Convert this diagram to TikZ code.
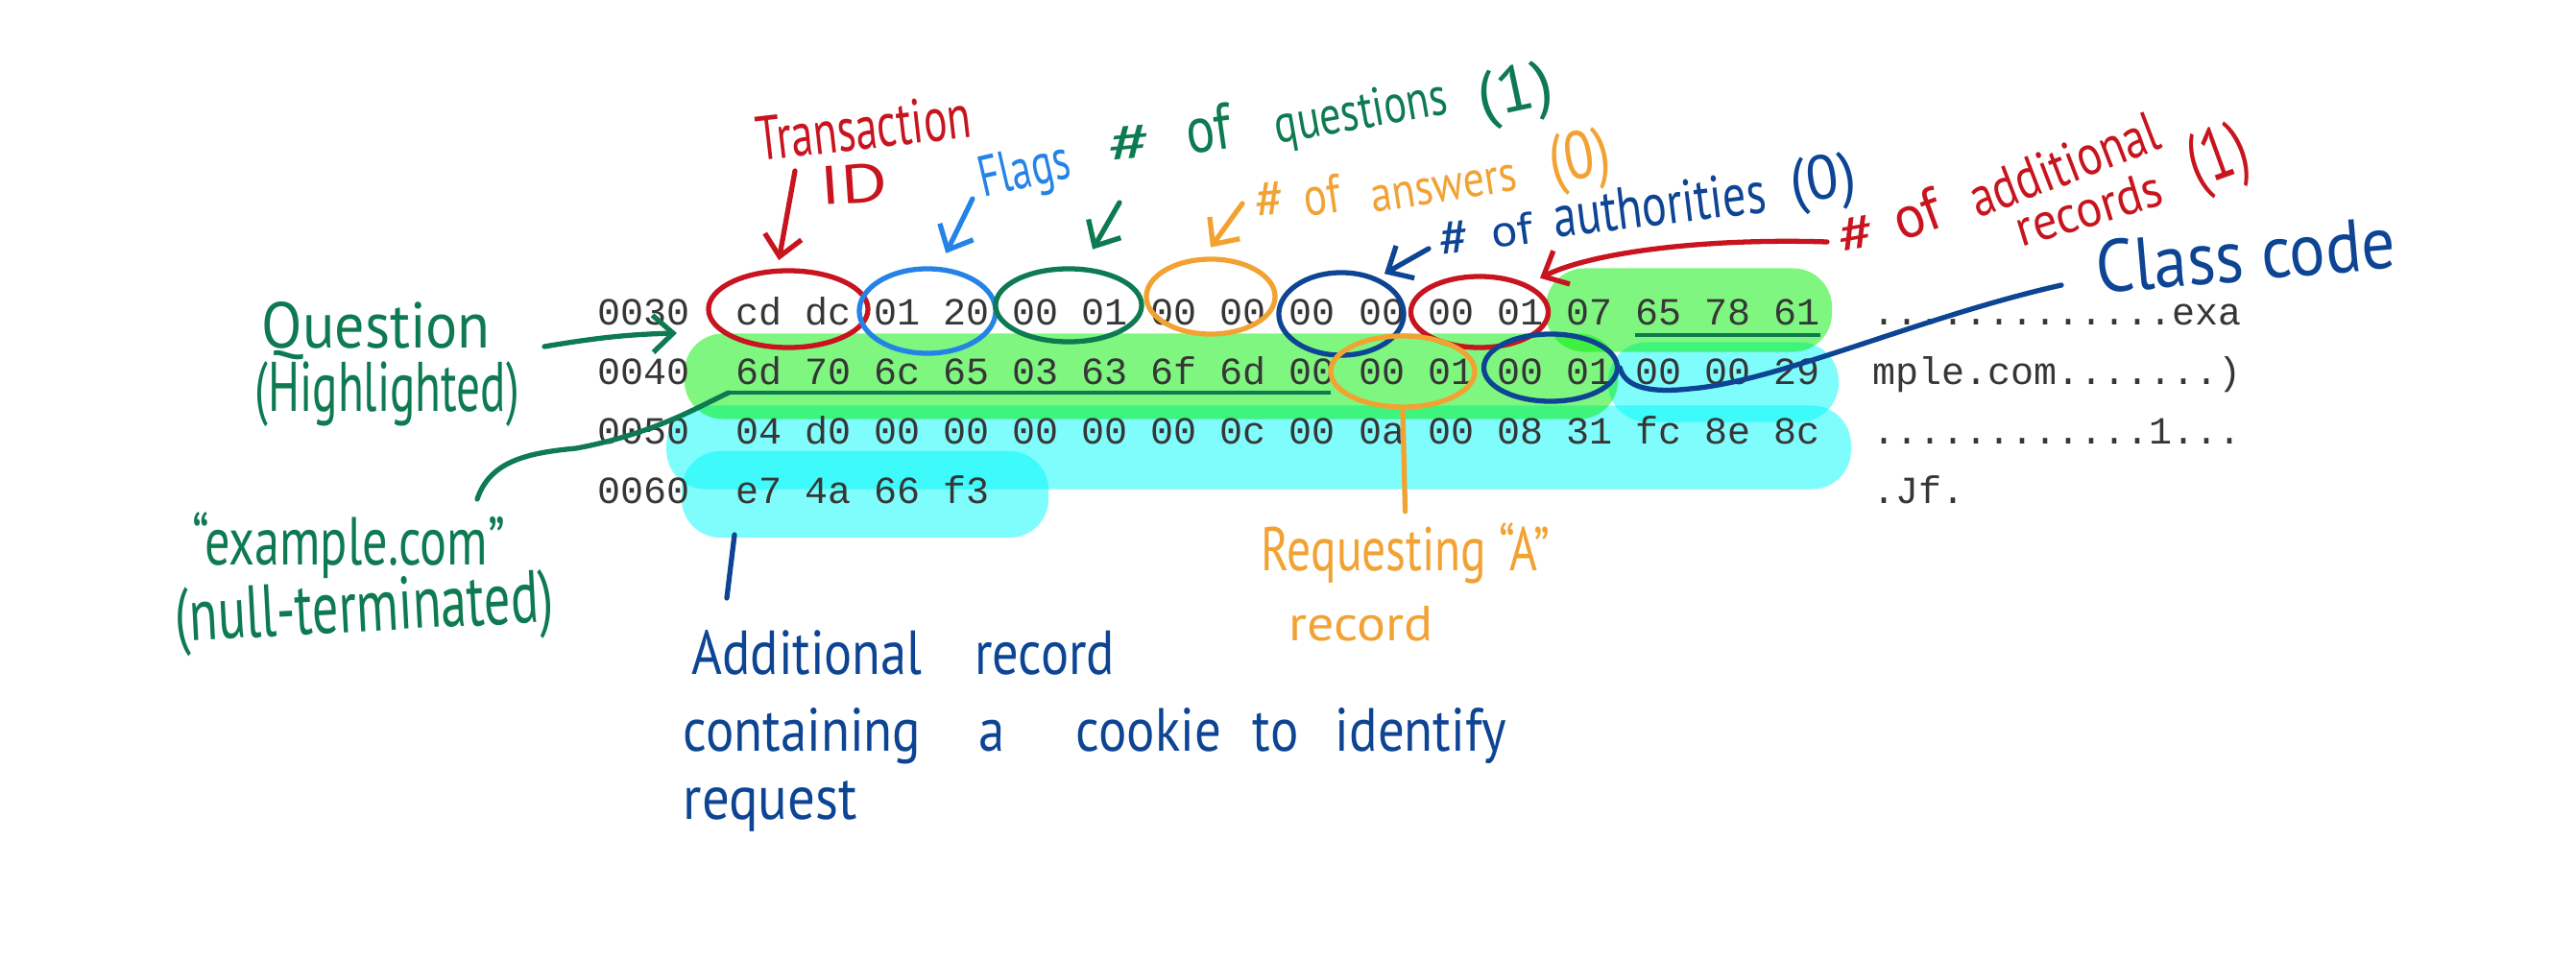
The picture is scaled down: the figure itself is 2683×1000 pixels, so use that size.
\documentclass[tikz,border=0pt]{standalone}
\usepackage{fontspec}
\usepackage{graphicx}
\usetikzlibrary{arrows.meta,shapes.geometric,calc}
\newfontfamily\hexfont{Liberation Mono}
\newfontfamily\handfont{PT Sans}
\definecolor{hexgray}{HTML}{363636}
\definecolor{hred}{HTML}{C8141E}
\definecolor{hblue}{HTML}{2483E6}
\definecolor{hgreen}{HTML}{0E7A52}
\definecolor{horange}{HTML}{F2A233}
\definecolor{hnavy}{HTML}{0D4493}
\definecolor{hlgreen}{HTML}{00EE00}
\definecolor{hlcyan}{HTML}{00FAFA}
\newcommand{\handtext}[3]{\resizebox{#1cm}{#2cm}{\handfont #3}}
\begin{document}
\begin{tikzpicture}[x=0.01cm,y=-0.01cm,
  hex/.style={anchor=base west, inner sep=0pt, font={\hexfont\fontsize{11.38pt}{13pt}\selectfont}, text=hexgray},
  hl/.style={rectangle, rounded corners=11.5pt, inner sep=0pt, fill opacity=0.5},
  circ/.style={ellipse, draw, line width=1.5pt, inner sep=0pt},
  lab/.style={anchor=base west, inner sep=0pt},
  conn/.style={line width=1.5pt, line cap=round},
  arr/.style={conn, -{Straight Barb[length=6pt,width=11pt]}},
  ul/.style={hgreen, line width=1.4pt}
]
\useasboundingbox (0,0) rectangle (2683,1000);
\fill[white] (0,0) rectangle (2683,1000);

% highlights
\node[hl, fill=hlcyan, minimum width=2.40cm, minimum height=0.83cm] (hlC1) at (1795,398) {};
\node[hl, fill=hlcyan, minimum width=12.33cm, minimum height=0.87cm] (hlC2) at (1311,466) {};
\node[hl, fill=hlcyan, minimum width=3.82cm, minimum height=0.90cm] (hlC3) at (901,515) {};
\node[hl, fill=hlgreen, minimum width=2.98cm, minimum height=0.87cm] (hlG1) at (1759,323) {};
\node[hl, fill=hlgreen, minimum width=9.72cm, minimum height=0.89cm] (hlG2) at (1199,392) {};

% underlines
\coordinate (ulA1) at (1703,349); \coordinate (ulA2) at (1896,349);
\coordinate (ulB1) at (759,409);  \coordinate (ulB2) at (1386,409);
\draw[ul] (ulA1) -- (ulA2);
\draw[ul] (ulB1) -- (ulB2);

% hex dump
\node[hex] (o1) at (622,338) {0030};
\node[hex] (h1) at (766,338) {cd dc 01 20 00 01 00 00 00 00 00 01 07 65 78 61};
\node[hex] (a1) at (1950,338) {.............exa};
\node[hex] (o2) at (622,400) {0040};
\node[hex] (h2) at (766,400) {6d 70 6c 65 03 63 6f 6d 00 00 01 00 01 00 00 29};
\node[hex] (a2) at (1950,400) {mple.com.......)};
\node[hex] (o3) at (622,462) {0050};
\node[hex] (h3) at (766,462) {04 d0 00 00 00 00 00 0c 00 0a 00 08 31 fc 8e 8c};
\node[hex] (a3) at (1950,462) {............1...};
\node[hex] (o4) at (622,524) {0060};
\node[hex] (h4) at (766,524) {e7 4a 66 f3};
\node[hex] (a4) at (1950,524) {.Jf.};

% circles
\node[circ, draw=hred, minimum width=1.66cm, minimum height=0.80cm] (cTid) at (821,322) {};
\node[circ, draw=hblue, minimum width=1.42cm, minimum height=0.88cm] (cFlags) at (966,324) {};
\node[circ, draw=hgreen, minimum width=1.52cm, minimum height=0.76cm] (cQ) at (1113,318) {};
\node[circ, draw=horange, minimum width=1.34cm, minimum height=0.78cm] (cAns) at (1261,309) {};
\node[circ, draw=hnavy, minimum width=1.30cm, minimum height=0.86cm] (cAuth) at (1397,327) {};
\node[circ, draw=hred, minimum width=1.43cm, minimum height=0.74cm] (cAdd) at (1541,325) {};
\node[circ, draw=horange, minimum width=1.50cm, minimum height=0.74cm] (cA) at (1461,387) {};
\node[circ, draw=hnavy, minimum width=1.39cm, minimum height=0.70cm] (cClass) at (1615,383) {};

% labels
\node[lab, text=hred, rotate=6.5] (lTid1) at (790,168) {\handtext{2.24}{0.46}{Transaction}};
\node[lab, text=hred, rotate=4] (lTid2) at (855,214) {\handtext{0.70}{0.40}{ID}};
\node[lab, text=hblue, rotate=13] (lFlags) at (1024,206) {\handtext{0.95}{0.42}{Flags}};
% # of questions (1)
\node[lab, text=hgreen, rotate=5] (lQa) at (1155,171) {\handtext{0.47}{0.37}{\#}};
\node[lab, text=hgreen, rotate=8] (lQb) at (1238,161) {\handtext{0.47}{0.48}{of}};
\node[lab, text=hgreen, rotate=10] (lQc) at (1330,150) {\handtext{1.82}{0.40}{questions}};
\node[lab, text=hgreen, rotate=12] (lQd) at (1543,124) {\handtext{0.79}{0.48}{(1)}};
% # of answers (0)
\node[lab, text=horange, rotate=5] (lAna) at (1308,229) {\handtext{0.32}{0.37}{\#}};
\node[lab, text=horange, rotate=8] (lAnb) at (1360,226) {\handtext{0.38}{0.40}{of}};
\node[lab, text=horange, rotate=9] (lAnc) at (1430,222) {\handtext{1.53}{0.27}{answers}};
\node[lab, text=horange, rotate=10] (lAnd) at (1617,191) {\handtext{0.63}{0.50}{(0)}};
% # of authorities (0)
\node[lab, text=hnavy, rotate=6] (lAua) at (1500,269) {\handtext{0.33}{0.36}{\#}};
\node[lab, text=hnavy, rotate=8] (lAub) at (1555,259) {\handtext{0.43}{0.33}{of}};
\node[lab, text=hnavy, rotate=7] (lAuc) at (1620,248) {\handtext{2.22}{0.44}{authorities}};
\node[lab, text=hnavy, rotate=8] (lAud) at (1867,212) {\handtext{0.68}{0.46}{(0)}};
% # of additional records (1)
\node[lab, text=hred, rotate=10] (lAda) at (1917,266) {\handtext{0.40}{0.36}{\#}};
\node[lab, text=hred, rotate=20] (lAdb) at (1980,252) {\handtext{0.50}{0.44}{of}};
\node[lab, text=hred, rotate=21] (lAdc) at (2060,228) {\handtext{2.07}{0.42}{additional}};
\node[lab, text=hred, rotate=17] (lAdd) at (2105,258) {\handtext{1.57}{0.38}{records}};
\node[lab, text=hred, rotate=20] (lAde) at (2288,196) {\handtext{0.62}{0.55}{(1)}};
% others
\node[lab, text=hnavy, rotate=5] (lClass) at (2185,306) {\handtext{3.12}{0.55}{Class code}};
\node[lab, text=hgreen] (lQu1) at (272,362) {\handtext{2.38}{0.48}{Question}};
\node[lab, text=hgreen] (lQu2) at (265,428) {\handtext{2.75}{0.52}{(Highlighted)}};
\node[lab, text=hgreen] (lEx1) at (200,588) {\handtext{3.25}{0.55}{“example.com”}};
\node[lab, text=hgreen, rotate=3] (lEx2) at (183,668) {\handtext{3.94}{0.55}{(null-terminated)}};
\node[lab, text=horange] (lReq1) at (1313,594) {\handtext{3.00}{0.50}{Requesting “A”}};
\node[lab, text=horange] (lReq2) at (1342,667) {\handtext{1.50}{0.36}{record}};
\node[lab, text=hnavy] (lAd1) at (720,702) {\handtext{4.40}{0.46}{Additional\hspace{1em}record}};
\node[lab, text=hnavy] (lAd2) at (711,782) {\handtext{8.57}{0.45}{containing\hspace{1.1em}a\hspace{1.35em}cookie\hspace{0.6em}to\hspace{0.7em}identify}};
\node[lab, text=hnavy] (lAd3) at (711,853) {\handtext{1.81}{0.40}{request}};

% connectors
\coordinate (sTid) at (828,178);
\draw[arr, hred, shorten >=2.5pt] (sTid) -- (cTid.105);
\coordinate (sFlags) at (1013,207);
\draw[arr, hblue, shorten >=4.5pt] (sFlags) -- (cFlags.75);
\coordinate (sQ) at (1166,211);
\draw[arr, hgreen, shorten >=6pt] (sQ) -- (cQ.70);
\coordinate (sAns) at (1294,212);
\draw[arr, horange, shorten >=3.5pt] (sAns) -- (cAns.100);
\coordinate (sAuth) at (1488,259);
\draw[arr, hnavy, shorten >=2.3pt] (sAuth) -- (cAuth.45);
\coordinate (sAdd) at (1903,252);
\draw[arr, hred, shorten >=4pt] (sAdd) .. controls (1780,248) and (1660,262) .. (cAdd.30);
\coordinate (sClass) at (2147,297);
\draw[conn, hnavy] (sClass) .. controls (2000,330) and (1850,398) .. (1760,405) .. controls (1715,410) and (1692,402) .. (cClass.east);
\coordinate (sQuest) at (567,361);
\draw[arr, hgreen, shorten >=2pt] (sQuest) to[bend left=4] (hlG2.north west);
\coordinate (sEx) at (497,520);
\draw[conn, hgreen] (sEx) .. controls (510,482) and (545,472) .. (600,467) .. controls (680,452) and (725,425) .. (ulB1);
\draw[conn, horange, shorten >=3pt] (cA.south) -- (lReq1.north);
\coordinate (adA) at (765,557); \coordinate (adB) at (757,623);
\draw[conn, hnavy] (adA) -- (adB);
\end{tikzpicture}
\end{document}
